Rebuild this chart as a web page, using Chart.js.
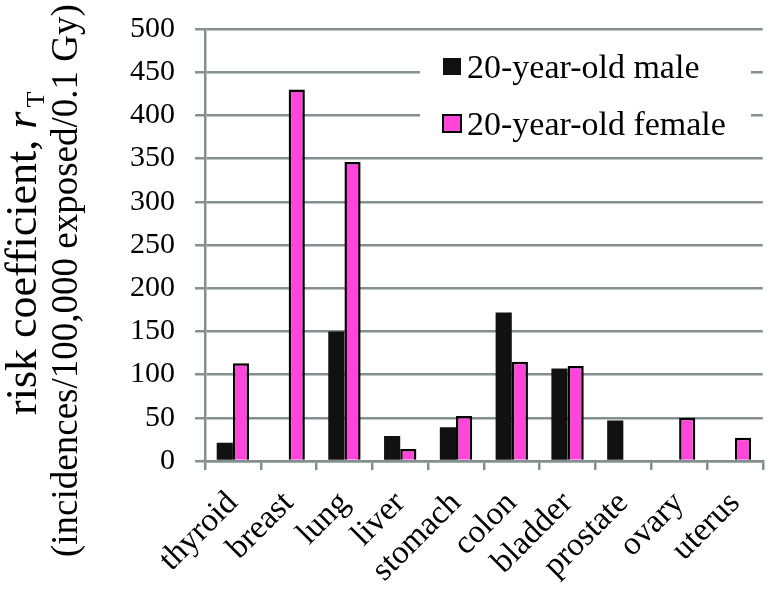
<!DOCTYPE html>
<html>
<head>
<meta charset="utf-8">
<script src="https://cdn.jsdelivr.net/npm/chart.js@4.4.1/dist/chart.umd.min.js"></script>
<style>
html,body{margin:0;padding:0;background:#fff;}
#wrap{width:777px;height:603px;}
</style>
</head>
<body>
<div id="wrap"><canvas id="c" width="777" height="603"></canvas></div>
<script>
const categories = ["thyroid","breast","lung","liver","stomach","colon","bladder","prostate","ovary","uterus"];
const maleValues = [21, 0, 150, 29, 39, 172, 107, 47, 0, 0];
const femaleValues = [113, 430, 346, 14, 52, 115, 110, 0, 50, 27];
const seriesNames = ["20-year-old male","20-year-old female"];
const yTicks = [0,50,100,150,200,250,300,350,400,450,500];

const FONT = "'Liberation Serif','Times New Roman',serif";
const GRID = '#84908f';
const PINK = '#ff46da';
const BLACK = '#111111';

const overlay = {
  id: 'overlay',
  afterDraw(chart) {
    const ctx = chart.ctx;
    ctx.save();
    // legend
    ctx.fillStyle = '#fff';
    ctx.fillRect(420, 48, 331, 94);
    ctx.font = '34px ' + FONT;
    ctx.textBaseline = 'alphabetic';
    ctx.textAlign = 'left';
    // male
    ctx.fillStyle = BLACK;
    ctx.fillRect(443, 58, 18, 17);
    ctx.fillStyle = '#000';
    ctx.fillText(seriesNames[0], 467, 78);
    // female
    ctx.fillStyle = PINK;
    ctx.fillRect(443, 115, 18, 17);
    ctx.lineWidth = 2;
    ctx.strokeStyle = '#000';
    ctx.strokeRect(443, 115, 18, 17);
    ctx.fillStyle = '#000';
    ctx.fillText(seriesNames[1], 467, 135);

    // y axis title
    ctx.save();
    ctx.rotate(-Math.PI/2);
    const f1 = '44px ' + FONT, fi = 'italic 44px ' + FONT, fs = '26px ' + FONT;
    const p1 = 'risk coefficient, ', p2 = 'r', p3 = 'T';
    ctx.font = f1; const w1 = ctx.measureText(p1).width;
    ctx.font = fi; const w2 = ctx.measureText(p2).width;
    let x = -415;
    const b1 = 36;
    ctx.textAlign = 'left';
    ctx.font = f1; ctx.fillText(p1, x, b1); x += w1;
    ctx.font = fi; ctx.fillText(p2, x, b1); x += w2 + 4;
    ctx.font = fs; ctx.fillText(p3, x, b1 + 8);
    ctx.font = '37px ' + FONT;
    ctx.fillText('(incidences/100,000 exposed/0.1 Gy)', -557, 77);
    ctx.restore();
    ctx.restore();
  }
};

new Chart(document.getElementById('c'), {
  type: 'bar',
  data: {
    labels: categories,
    datasets: [
      { label: seriesNames[0], data: maleValues, backgroundColor: BLACK, borderColor: '#000', borderWidth: 0, borderSkipped: false },
      { label: seriesNames[1], data: femaleValues, backgroundColor: PINK, borderColor: '#000', borderWidth: 2.5, borderSkipped: 'bottom' }
    ]
  },
  options: {
    responsive: false,
    animation: false,
    devicePixelRatio: 1,
    layout: { padding: { top: 29, right: 2, left: 0, bottom: 0 } },
    plugins: { legend: { display: false }, tooltip: { enabled: false } },
    datasets: { bar: { categoryPercentage: 0.58, barPercentage: 1.0 } },
    scales: {
      x: {
        grid: { display: true, drawOnChartArea: false, drawTicks: true, tickLength: 9, color: GRID, lineWidth: 2.5, offset: true },
        border: { display: true, color: GRID, width: 2.5 },
        ticks: { font: { family: FONT, size: 33 }, color: '#000', minRotation: 45, maxRotation: 45, padding: 14, autoSkip: false },
        afterFit(s) { s.height = 142; }
      },
      y: {
        min: 0, max: 500,
        afterBuildTicks(s) { s.ticks = yTicks.map(v => ({ value: v })); },
        grid: { color: GRID, lineWidth: 2.5, drawTicks: true, tickLength: 10 },
        border: { display: true, color: GRID, width: 2.5 },
        ticks: { font: { family: FONT, size: 30 }, color: '#000', padding: 20 },
        afterFit(s) { s.width = 205; s.paddingTop = 0; s.paddingBottom = 0; }
      }
    }
  },
  plugins: [overlay]
});
</script>
</body>
</html>
